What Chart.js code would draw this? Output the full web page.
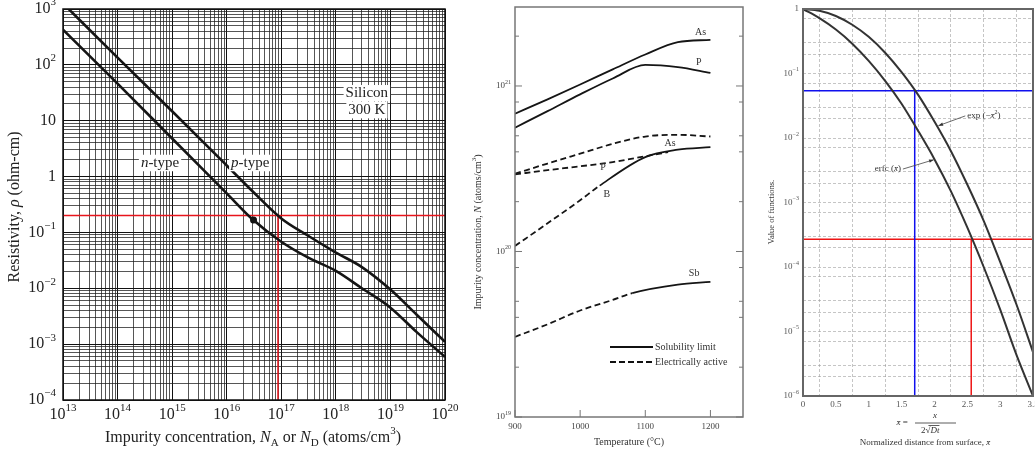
<!DOCTYPE html>
<html>
<head>
<meta charset="utf-8">
<script src="https://cdn.jsdelivr.net/npm/chart.js@4.4.1/dist/chart.umd.min.js"></script>
<style>
html, body { margin: 0; padding: 0; background: #fff; }
body { width: 1035px; height: 454px; position: relative; overflow: hidden; }
.box { position: absolute; top: 0; height: 454px; }
#b1 { left: 0; width: 460px; }
#b2 { left: 465px; width: 290px; }
#b3 { left: 760px; width: 275px; }
</style>
</head>
<body>
<div class="box" id="b1"><canvas id="resistivity"></canvas></div>
<div class="box" id="b2"><canvas id="solubility"></canvas></div>
<div class="box" id="b3"><canvas id="functions"></canvas></div>
<script>
// ---- left: resistivity of silicon at 300 K ----
const concN = [1e13, 1e14, 1e15, 1e16, 3e16, 1e17, 3e17, 1e18, 3e18, 1e19, 3e19, 1e20];
const pTypeRho = [1260, 135, 14.8, 1.58, 0.54, 0.178, 0.089, 0.0437, 0.024, 0.0095, 0.0034, 0.0011];
const nTypeRho = [427, 46, 4.8, 0.50, 0.17, 0.068, 0.036, 0.0205, 0.0100, 0.0045, 0.00166, 0.00059];
const refRho = 0.2, refN = 8.7e16;
const dotN = 3.1e16, dotRho = 0.167;
const concExp = [13, 14, 15, 16, 17, 18, 19, 20];
const rhoExp = [3, 2, 1, 0, -1, -2, -3, -4];

// ---- middle: solid solubility / electrically active ----
const temps = [900, 950, 1000, 1050, 1100, 1150, 1200];
const asSolubility = [6.8e20, 8.3e20, 1.02e21, 1.26e21, 1.55e21, 1.84e21, 1.9e21];
const pSolubility = [5.6e20, 7.05e20, 8.9e20, 1.11e21, 1.34e21, 1.30e21, 1.2e21];
const asActive = [2.95e20, 3.4e20, 3.9e20, 4.47e20, 4.95e20, 5.07e20, 4.95e20];
const pActiveT = [900, 950, 1000, 1050, 1100, 1135];
const pActive = [2.92e20, 3.1e20, 3.27e20, 3.47e20, 3.76e20, 3.98e20];
const bT = [900, 950, 1000, 1030, 1100, 1150, 1200];
const bConc = [1.08e20, 1.48e20, 2.04e20, 2.5e20, 3.72e20, 4.12e20, 4.27e20];
const sbT = [900, 950, 1000, 1050, 1080, 1150, 1200];
const sbConc = [3.05e19, 3.63e19, 4.4e19, 5.1e19, 5.6e19, 6.3e19, 6.55e19];
const tempTicks = [900, 1000, 1100, 1200];
const solExp = [19, 20, 21];
const solMinor = [2, 4, 5, 8];

// ---- right: erfc and gaussian ----
const xbar = [0, 0.25, 0.5, 0.75, 1, 1.25, 1.5, 1.75, 2, 2.25, 2.5, 2.75, 3, 3.25, 3.5];
const expVals = [1, 0.94, 0.78, 0.57, 0.37, 0.21, 0.105, 0.047, 0.018, 0.0063, 0.0019, 0.00052, 0.00012, 0.000026, 0.0000048];
const erfcVals = [1, 0.72, 0.48, 0.29, 0.157, 0.077, 0.034, 0.013, 0.0047, 0.0015, 0.00041, 0.0001, 0.000022, 0.0000043, 0.000001];
const blueY = 0.054, blueX = 1.70;
const redY = 0.00027, redX = 2.56;
const xbarLabels = ['0', '0.5', '1', '1.5', '2', '2.5', '3', '3.5'];
const funcExp = [0, -1, -2, -3, -4, -5, -6];

const FAM = "'Liberation Serif', 'DejaVu Serif', serif";

function runFont(r, size) {
    return (r.it ? 'italic ' : '') + ((r.sup || r.sub) ? Math.round(size * 0.68) : size) + 'px ' + FAM;
}
function richWidth(ctx, runs, size) {
    let w = 0;
    runs.forEach(r => { ctx.font = runFont(r, size); w += ctx.measureText(r.t).width; });
    return w;
}
function drawRich(ctx, runs, x, y, size, align, color) {
    const w = richWidth(ctx, runs, size);
    let cx = align === 'center' ? x - w / 2 : align === 'right' ? x - w : x;
    ctx.fillStyle = color || '#222';
    ctx.textBaseline = 'middle';
    ctx.textAlign = 'left';
    runs.forEach(r => {
        ctx.font = runFont(r, size);
        const dy = r.sup ? -size * 0.4 : r.sub ? size * 0.3 : 0;
        ctx.fillText(r.t, cx, y + dy);
        cx += ctx.measureText(r.t).width;
    });
    return w;
}
function drawRotated(ctx, runs, x, y, size, color) {
    ctx.save();
    ctx.translate(x, y);
    ctx.rotate(-Math.PI / 2);
    drawRich(ctx, runs, 0, 0, size, 'center', color);
    ctx.restore();
}
function pow10Runs(e) {
    if (e === 0) return [{ t: '1' }];
    if (e === 1) return [{ t: '10' }];
    return [{ t: '10' }, { t: e < 0 ? '\u2212' + (-e) : String(e), sup: true }];
}
function logTicks(lo, hi, mults) {
    const out = [];
    for (let e = lo; e < hi; e++) mults.forEach(m => out.push(m * Math.pow(10, e)));
    out.push(Math.pow(10, hi));
    return out;
}
function isDecade(v) {
    const l = Math.log10(v);
    return Math.abs(l - Math.round(l)) < 1e-6;
}
function pts(xs, ys) { return xs.map((x, i) => ({ x: x, y: ys[i] })); }

// ---------------- chart 1 ----------------
const resistivityText = {
    id: 'resistivityText',
    afterDraw(chart) {
        const ctx = chart.ctx, a = chart.chartArea;
        const sx = chart.scales.x, sy = chart.scales.y;
        ctx.save();
        ctx.strokeStyle = '#111';
        ctx.lineWidth = 1.5;
        ctx.strokeRect(a.left, a.top, a.right - a.left, a.bottom - a.top);
        rhoExp.forEach(e => drawRich(ctx, pow10Runs(e), a.left - 7, sy.getPixelForValue(Math.pow(10, e)), 16, 'right', '#222'));
        concExp.forEach(e => drawRich(ctx, pow10Runs(e), sx.getPixelForValue(Math.pow(10, e)), a.bottom + 15, 16, 'center', '#222'));
        // labels with white backing
        const boxed = (runs, vx, vy, size) => {
            const x = sx.getPixelForValue(vx), y = sy.getPixelForValue(vy);
            const w = richWidth(ctx, runs, size);
            ctx.fillStyle = '#fff';
            ctx.fillRect(x - w / 2 - 2, y - size * 0.55, w + 4, size * 1.1);
            drawRich(ctx, runs, x, y, size, 'center', '#222');
        };
        boxed([{ t: 'n', it: true }, { t: '-type' }], 6e14, 1.75, 15);
        boxed([{ t: 'p', it: true }, { t: '-type' }], 2.7e16, 1.75, 15);
        boxed([{ t: 'Silicon' }], 3.7e18, 31, 15);
        boxed([{ t: '300 K' }], 3.7e18, 15.5, 15);
        drawRotated(ctx, [{ t: 'Resistivity, ' }, { t: '\u03c1', it: true }, { t: ' (ohm-cm)' }], 15, 207, 16, '#222');
        drawRich(ctx, [{ t: 'Impurity concentration, ' }, { t: 'N', it: true }, { t: 'A', sub: true },
            { t: ' or ' }, { t: 'N', it: true }, { t: 'D', sub: true }, { t: ' (atoms/cm' }, { t: '3', sup: true }, { t: ')' }],
            253, 438, 16, 'center', '#222');
        ctx.restore();
    }
};

new Chart(document.getElementById('resistivity'), {
    type: 'line',
    data: {
        datasets: [
            { data: pts(concN, pTypeRho), borderColor: '#151515', borderWidth: 2.6, pointRadius: 0, cubicInterpolationMode: 'monotone' },
            { data: pts(concN, nTypeRho), borderColor: '#151515', borderWidth: 2.6, pointRadius: 0, cubicInterpolationMode: 'monotone' },
            { data: [{ x: dotN, y: dotRho }], showLine: false, pointRadius: 3.5, pointBackgroundColor: '#111', pointBorderWidth: 0 },
            { data: [{ x: 1e13, y: refRho }, { x: 1e20, y: refRho }], borderColor: '#e8141c', borderWidth: 1.5, pointRadius: 0 },
            { data: [{ x: refN, y: 1e-4 }, { x: refN, y: refRho }], borderColor: '#e8141c', borderWidth: 1.5, pointRadius: 0 },
        ],
    },
    options: {
        responsive: true,
        maintainAspectRatio: false,
        animation: false,
        layout: { padding: { top: 9, right: 15, left: 0, bottom: 0 } },
        plugins: { legend: { display: false }, tooltip: { enabled: false } },
        scales: {
            x: {
                type: 'logarithmic', min: 1e13, max: 1e20,
                afterBuildTicks: s => { s.ticks = logTicks(13, 20, [1, 2, 3, 4, 5, 6, 7, 8, 9]).map(v => ({ value: v })); },
                afterFit: s => { s.height = 54; },
                ticks: { display: false },
                grid: { color: c => isDecade(c.tick.value) ? '#111' : 'rgba(30,30,30,0.75)', lineWidth: 1, drawTicks: false },
                border: { display: false },
            },
            y: {
                type: 'logarithmic', min: 1e-4, max: 1e3,
                afterBuildTicks: s => { s.ticks = logTicks(-4, 3, [1, 2, 3, 4, 5, 6, 7, 8, 9]).map(v => ({ value: v })); },
                afterFit: s => { s.width = 63; },
                ticks: { display: false },
                grid: { color: c => isDecade(c.tick.value) ? '#111' : 'rgba(30,30,30,0.75)', lineWidth: 1, drawTicks: false },
                border: { display: false },
            },
        },
    },
    plugins: [resistivityText],
});

// ---------------- chart 2 ----------------
const solubilityText = {
    id: 'solubilityText',
    afterDraw(chart) {
        const ctx = chart.ctx, a = chart.chartArea;
        const sx = chart.scales.x, sy = chart.scales.y;
        ctx.save();
        ctx.strokeStyle = '#777';
        ctx.lineWidth = 1.5;
        ctx.strokeRect(a.left, a.top, a.right - a.left, a.bottom - a.top);
        ctx.lineWidth = 1;
        const yt = logTicks(19, 21, [1].concat(solMinor)).concat([2e21]);
        yt.forEach(v => {
            const y = sy.getPixelForValue(v), len = isDecade(v) ? 7 : 4;
            ctx.beginPath();
            ctx.moveTo(a.left, y); ctx.lineTo(a.left + len, y);
            ctx.moveTo(a.right, y); ctx.lineTo(a.right - len, y);
            ctx.stroke();
        });
        tempTicks.forEach(t => {
            const x = sx.getPixelForValue(t);
            ctx.beginPath(); ctx.moveTo(x, a.bottom); ctx.lineTo(x, a.bottom - 7); ctx.stroke();
            drawRich(ctx, [{ t: String(t) }], x, a.bottom + 10, 9, 'center', '#444');
        });
        solExp.forEach(e => drawRich(ctx, pow10Runs(e), a.left - 4, sy.getPixelForValue(Math.pow(10, e)), 9, 'right', '#444'));
        const lab = (t, vx, vy) => drawRich(ctx, [{ t: t }], sx.getPixelForValue(vx), sy.getPixelForValue(vy), 10, 'center', '#333');
        lab('As', 1185, 2.1e21);
        lab('P', 1182, 1.38e21);
        lab('As', 1138, 4.5e20);
        lab('P', 1035, 3.24e20);
        lab('B', 1041, 2.2e20);
        lab('Sb', 1175, 7.4e19);
        // legend
        ctx.strokeStyle = '#111';
        ctx.lineWidth = 1.8;
        ctx.beginPath(); ctx.moveTo(145, 347); ctx.lineTo(188, 347); ctx.stroke();
        ctx.setLineDash([6, 3]);
        ctx.beginPath(); ctx.moveTo(145, 362); ctx.lineTo(188, 362); ctx.stroke();
        ctx.setLineDash([]);
        drawRich(ctx, [{ t: 'Solubility limit' }], 190, 347, 10, 'left', '#333');
        drawRich(ctx, [{ t: 'Electrically active' }], 190, 362, 10, 'left', '#333');
        drawRotated(ctx, [{ t: 'Impurity concentration, ' }, { t: 'N', it: true }, { t: ' (atoms/cm' }, { t: '3', sup: true }, { t: ')' }], 13, 232, 10, '#333');
        drawRich(ctx, [{ t: 'Temperature (\u00b0C)' }], 164, 442, 10, 'center', '#333');
        ctx.restore();
    }
};

const dashUntil = limit => ({ borderDash: c => c.p1.parsed.x <= limit ? [6, 3.5] : undefined });
const solLine = { borderColor: '#151515', borderWidth: 1.8, pointRadius: 0, cubicInterpolationMode: 'monotone' };

new Chart(document.getElementById('solubility'), {
    type: 'line',
    data: {
        datasets: [
            Object.assign({ data: pts(temps, asSolubility) }, solLine),
            Object.assign({ data: pts(temps, pSolubility) }, solLine),
            Object.assign({ data: pts(temps, asActive), borderDash: [6, 3.5] }, solLine),
            Object.assign({ data: pts(pActiveT, pActive), borderDash: [6, 3.5] }, solLine),
            Object.assign({ data: pts(bT, bConc), segment: dashUntil(1030) }, solLine),
            Object.assign({ data: pts(sbT, sbConc), segment: dashUntil(1080) }, solLine),
        ],
    },
    options: {
        responsive: true,
        maintainAspectRatio: false,
        animation: false,
        layout: { padding: { top: 7, right: 12, left: 0, bottom: 0 } },
        plugins: { legend: { display: false }, tooltip: { enabled: false } },
        scales: {
            x: {
                type: 'linear', min: 900, max: 1250,
                afterFit: s => { s.height = 37; },
                ticks: { display: false }, grid: { display: false }, border: { display: false },
            },
            y: {
                type: 'logarithmic', min: 1e19, max: 3e21,
                afterFit: s => { s.width = 50; },
                ticks: { display: false }, grid: { display: false }, border: { display: false },
            },
        },
    },
    plugins: [solubilityText],
});

// ---------------- chart 3 ----------------
function arrow(ctx, x0, y0, x1, y1) {
    ctx.beginPath(); ctx.moveTo(x0, y0); ctx.lineTo(x1, y1); ctx.stroke();
    const ang = Math.atan2(y1 - y0, x1 - x0);
    ctx.beginPath();
    ctx.moveTo(x1, y1);
    ctx.lineTo(x1 - 5 * Math.cos(ang - 0.35), y1 - 5 * Math.sin(ang - 0.35));
    ctx.lineTo(x1 - 5 * Math.cos(ang + 0.35), y1 - 5 * Math.sin(ang + 0.35));
    ctx.closePath(); ctx.fill();
}
const functionsText = {
    id: 'functionsText',
    afterDraw(chart) {
        const ctx = chart.ctx, a = chart.chartArea;
        const sx = chart.scales.x, sy = chart.scales.y;
        ctx.save();
        ctx.strokeStyle = '#666';
        ctx.lineWidth = 2;
        ctx.strokeRect(a.left, a.top, a.right - a.left, a.bottom - a.top);
        funcExp.forEach(e => drawRich(ctx, pow10Runs(e), a.left - 4, sy.getPixelForValue(Math.pow(10, e)), 9, 'right', '#555'));
        xbarLabels.forEach(l => drawRich(ctx, [{ t: l }], sx.getPixelForValue(parseFloat(l)), a.bottom + 9, 9, 'center', '#555'));
        // curve labels
        ctx.fillStyle = '#333';
        ctx.strokeStyle = '#444';
        ctx.lineWidth = 0.8;
        const ex = sx.getPixelForValue(2.5), ey = sy.getPixelForValue(0.022);
        arrow(ctx, ex - 2, ey, sx.getPixelForValue(2.06), sy.getPixelForValue(0.0155));
        drawRich(ctx, [{ t: 'exp (\u2212' }, { t: 'x\u0304', it: true }, { t: '2', sup: true }, { t: ')' }], ex, ey, 9, 'left', '#333');
        const fx = sx.getPixelForValue(1.49), fy = sy.getPixelForValue(0.0033);
        ctx.fillStyle = '#333';
        arrow(ctx, fx + 2, fy, sx.getPixelForValue(1.99), sy.getPixelForValue(0.0046));
        drawRich(ctx, [{ t: 'erfc (' }, { t: 'x\u0304', it: true }, { t: ')' }], fx, fy, 9, 'right', '#333');
        // axis titles
        drawRotated(ctx, [{ t: 'Value of functions.' }], 12, 212, 8.5, '#333');
        drawRich(ctx, [{ t: 'x\u0304', it: true }, { t: ' = ' }], 150, 423, 9, 'right', '#333');
        ctx.strokeStyle = '#333';
        ctx.lineWidth = 0.8;
        ctx.beginPath(); ctx.moveTo(155, 423); ctx.lineTo(196, 423); ctx.stroke();
        drawRich(ctx, [{ t: 'x', it: true }], 175, 416, 9, 'center', '#333');
        const dw = drawRich(ctx, [{ t: '2\u221a' }, { t: 'Dt', it: true }], 161, 431, 9, 'left', '#333');
        ctx.beginPath(); ctx.moveTo(161 + dw - 11, 425.5); ctx.lineTo(161 + dw, 425.5); ctx.stroke();
        drawRich(ctx, [{ t: 'Normalized distance from surface, ' }, { t: 'x\u0304', it: true }], 165, 443, 9, 'center', '#333');
        ctx.restore();
    }
};

const gridGrey = 'rgba(150,150,150,0.55)';
new Chart(document.getElementById('functions'), {
    type: 'line',
    data: {
        datasets: [
            { data: pts(xbar, expVals), borderColor: '#333', borderWidth: 2, pointRadius: 0, cubicInterpolationMode: 'monotone' },
            { data: pts(xbar, erfcVals), borderColor: '#333', borderWidth: 2, pointRadius: 0, cubicInterpolationMode: 'monotone' },
            { data: [{ x: 0, y: blueY }, { x: 3.5, y: blueY }], borderColor: '#1010ee', borderWidth: 1.5, pointRadius: 0 },
            { data: [{ x: blueX, y: 1e-6 }, { x: blueX, y: blueY }], borderColor: '#1010ee', borderWidth: 1.5, pointRadius: 0 },
            { data: [{ x: 0, y: redY }, { x: 3.5, y: redY }], borderColor: '#ee1515', borderWidth: 1.5, pointRadius: 0 },
            { data: [{ x: redX, y: 1e-6 }, { x: redX, y: redY }], borderColor: '#ee1515', borderWidth: 1.5, pointRadius: 0 },
        ],
    },
    options: {
        responsive: true,
        maintainAspectRatio: false,
        animation: false,
        layout: { padding: { top: 9, right: 2, left: 0, bottom: 0 } },
        plugins: { legend: { display: false }, tooltip: { enabled: false } },
        scales: {
            x: {
                type: 'linear', min: 0, max: 3.5,
                afterBuildTicks: s => { s.ticks = xbar.map(v => ({ value: v })); },
                afterFit: s => { s.height = 58; },
                ticks: { display: false },
                grid: { color: c => Math.abs((c.tick.value * 4) % 2 - 1) < 1e-6 ? gridGrey : 'rgba(0,0,0,0)', lineWidth: 1, drawTicks: false },
                border: { display: false, dash: [3, 2] },
            },
            y: {
                type: 'logarithmic', min: 1e-6, max: 1,
                afterBuildTicks: s => { s.ticks = logTicks(-6, 0, [1, 2, 3, 7]).map(v => ({ value: v })); },
                afterFit: s => { s.width = 43; },
                ticks: { display: false },
                grid: { color: gridGrey, lineWidth: 1, drawTicks: false },
                border: { display: false, dash: [3, 2] },
            },
        },
    },
    plugins: [functionsText],
});
</script>
</body>
</html>
